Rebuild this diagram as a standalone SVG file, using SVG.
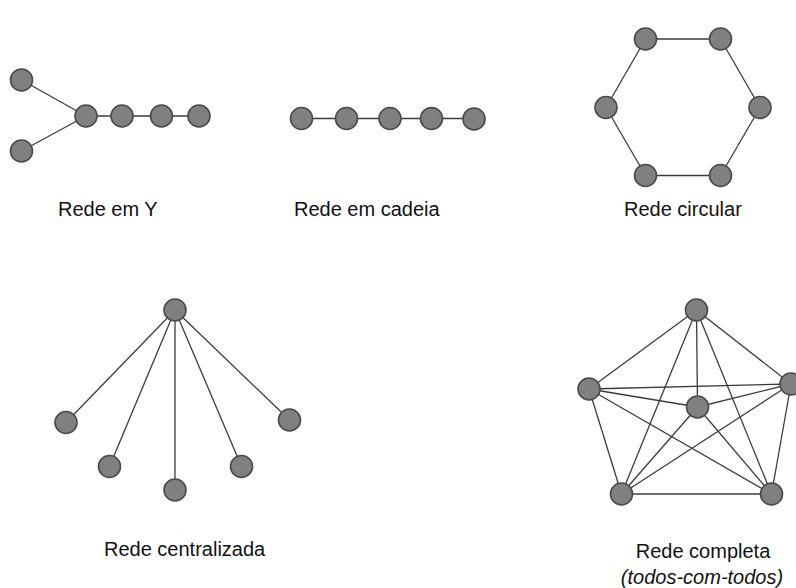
<svg xmlns="http://www.w3.org/2000/svg" width="796" height="588" viewBox="0 0 796 588">
<style>
.n{fill:#808080;stroke:#4a4a4a;stroke-width:1.6}
.e line{stroke:#3c3c3c;stroke-width:1.3}
.t{font-family:"Liberation Sans",Arial,sans-serif;font-size:20px;fill:#111}
</style>
<rect width="796" height="588" fill="#fff"/>
<g id="connectors" class="e">
<!-- Y -->
<line x1="21.5" y1="80" x2="86" y2="116"/><line x1="21.5" y1="151" x2="86" y2="116"/>
<line x1="86" y1="116" x2="199" y2="116"/>
<!-- chain -->
<line x1="301.5" y1="118.5" x2="474" y2="118.5"/>
<!-- circular -->
<line x1="645.5" y1="39" x2="720.5" y2="39"/><line x1="720.5" y1="39" x2="760" y2="107.5"/>
<line x1="760" y1="107.5" x2="720.5" y2="175.5"/><line x1="720.5" y1="175.5" x2="645.5" y2="175.5"/>
<line x1="645.5" y1="175.5" x2="606" y2="107.5"/><line x1="606" y1="107.5" x2="645.5" y2="39"/>
<!-- centralized -->
<line x1="175" y1="310" x2="66" y2="422.5"/><line x1="175" y1="310" x2="109.5" y2="466.5"/>
<line x1="175" y1="310" x2="175" y2="490"/><line x1="175" y1="310" x2="241.5" y2="466.5"/>
<line x1="175" y1="310" x2="289.5" y2="420"/>
<!-- complete -->
<line x1="696.5" y1="310" x2="589" y2="389"/><line x1="696.5" y1="310" x2="791" y2="384"/>
<line x1="696.5" y1="310" x2="697.5" y2="407"/><line x1="696.5" y1="310" x2="621.5" y2="494"/>
<line x1="696.5" y1="310" x2="771.5" y2="494"/>
<line x1="589" y1="389" x2="791" y2="384"/><line x1="589" y1="389" x2="697.5" y2="407"/>
<line x1="589" y1="389" x2="621.5" y2="494"/><line x1="589" y1="389" x2="771.5" y2="494"/>
<line x1="791" y1="384" x2="697.5" y2="407"/><line x1="791" y1="384" x2="621.5" y2="494"/>
<line x1="791" y1="384" x2="771.5" y2="494"/>
<line x1="697.5" y1="407" x2="621.5" y2="494"/><line x1="697.5" y1="407" x2="771.5" y2="494"/>
<line x1="621.5" y1="494" x2="771.5" y2="494"/>
</g>
<g id="rede-y">
<circle class="n" cx="21.5" cy="80" r="11"/><circle class="n" cx="21.5" cy="151" r="11"/>
<circle class="n" cx="86" cy="116" r="11"/><circle class="n" cx="122" cy="116" r="11"/>
<circle class="n" cx="161.5" cy="116" r="11"/><circle class="n" cx="199" cy="116" r="11"/>
<text class="t" x="58" y="216">Rede em Y</text>
</g>
<g id="rede-cadeia">
<circle class="n" cx="301.5" cy="118.5" r="11"/><circle class="n" cx="346.5" cy="118.5" r="11"/>
<circle class="n" cx="390" cy="118.5" r="11"/><circle class="n" cx="431.5" cy="118.5" r="11"/>
<circle class="n" cx="474" cy="119" r="11"/>
<text class="t" x="294" y="216">Rede em cadeia</text>
</g>
<g id="rede-circular">
<circle class="n" cx="645.5" cy="39" r="11"/><circle class="n" cx="720.5" cy="39" r="11"/>
<circle class="n" cx="606" cy="107.5" r="11"/><circle class="n" cx="760" cy="107.5" r="11"/>
<circle class="n" cx="645.5" cy="175.5" r="11"/><circle class="n" cx="720.5" cy="175.5" r="11"/>
<text class="t" x="624" y="216">Rede circular</text>
</g>
<g id="rede-centralizada">
<circle class="n" cx="175" cy="310" r="11"/><circle class="n" cx="66" cy="422.5" r="11"/>
<circle class="n" cx="109.5" cy="466.5" r="11"/><circle class="n" cx="175" cy="490" r="11"/>
<circle class="n" cx="241.5" cy="466.5" r="11"/><circle class="n" cx="289.5" cy="420" r="11"/>
<text class="t" x="104" y="556">Rede centralizada</text>
</g>
<g id="rede-completa">
<circle class="n" cx="696.5" cy="310" r="11"/><circle class="n" cx="589" cy="389" r="11"/>
<circle class="n" cx="791" cy="384" r="11"/><circle class="n" cx="697.5" cy="407" r="11"/>
<circle class="n" cx="621.5" cy="494" r="11"/><circle class="n" cx="771.5" cy="494" r="11"/>
<text class="t" x="703" y="558" text-anchor="middle">Rede completa</text>
<text class="t" x="702" y="584" text-anchor="middle" font-style="italic">(todos-com-todos)</text>
</g>
</svg>
